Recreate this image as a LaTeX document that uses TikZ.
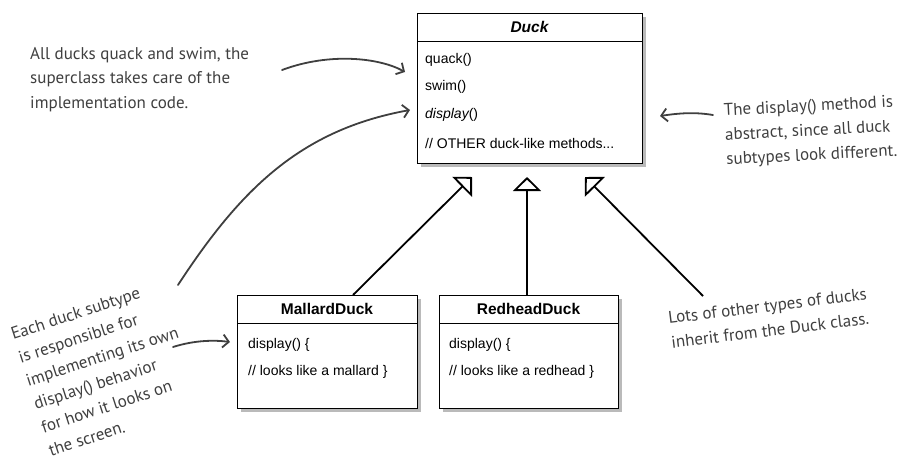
\documentclass[tikz,border=0pt]{standalone}
\usepackage{fontspec}
\setmainfont{Liberation Sans}
\newfontfamily\handfont{PT Sans}
\usetikzlibrary{arrows.meta,shadows}
\definecolor{pen}{HTML}{3f3f3f}
\begin{document}
\begin{tikzpicture}[x=1pt,y=-1pt,
  umlbox/.style={draw=black,line width=1pt,fill=white,anchor=north west,inner sep=0pt,
    drop shadow={shadow xshift=3pt,shadow yshift=-3pt,opacity=0.45,fill=black!60}},
  ttl/.style={font=\fontsize{15.5}{18}\selectfont\bfseries,inner sep=0pt},
  meth/.style={font=\fontsize{14}{16}\selectfont,anchor=west,inner sep=0pt},
  note/.style={font=\handfont\fontsize{17}{24.5}\selectfont,text=pen,align=left,inner sep=0pt},
  inherit/.style={line width=1.8pt,-{Triangle[open,length=14pt,width=28pt,line width=1.8pt]}},
  hand/.style={draw=pen,line width=1.8pt,line cap=round,-{Straight Barb[length=6pt,width=13pt,line width=1.8pt]}}]
\useasboundingbox (0,0) rectangle (924,461);

% Duck class
\node[umlbox,minimum width=225pt,minimum height=150pt] (duck) at (417,13) {};
\node[ttl] (duckt) at (529.5,27) {\itshape Duck};
\coordinate (dsl) at (417,41); \coordinate (dsr) at (642,41);
\draw[line width=1pt] (dsl) -- (dsr);
\node[meth] (m1) at (425,60) {quack()};
\node[meth] (m2) at (425,87) {swim()};
\node[meth] (m3) at (425,115) {\itshape display\upshape()};
\node[meth] (m4) at (425,143) {// OTHER duck-like methods...};

% MallardDuck
\node[umlbox,minimum width=180pt,minimum height=113pt] (mal) at (237,295) {};
\node[ttl] (malt) at (327,309) {MallardDuck};
\coordinate (msl) at (237,323); \coordinate (msr) at (417,323);
\draw[line width=1pt] (msl) -- (msr);
\node[meth] (ma1) at (248,345) {display() \{};
\node[meth] (ma2) at (248,372) {// looks like a mallard \}};

% RedheadDuck
\node[umlbox,minimum width=179pt,minimum height=113pt] (red) at (439,295) {};
\node[ttl] (redt) at (528.5,309) {RedheadDuck};
\coordinate (rsl) at (439,323); \coordinate (rsr) at (618,323);
\draw[line width=1pt] (rsl) -- (rsr);
\node[meth] (re1) at (449,345) {display() \{};
\node[meth] (re2) at (449,372) {// looks like a redhead \}};

% inheritance arrows
\coordinate (mtop) at (353,295);
\coordinate (rtop) at (527,295);
\coordinate (otop) at (703,296);
\coordinate (tip1) at (472,177);
\coordinate (tip2) at (527,177);
\coordinate (tip3) at (585,177);
\draw[inherit] (mtop) -- (tip1);
\draw[inherit,line width=2.6pt] (rtop) -- (tip2);
\draw[inherit] (otop) -- (tip3);

% notes
\node[note,anchor=north west] (n1) at (30,47) {All ducks quack and swim, the\\superclass takes care of the\\implementation code.};
\node[note,rotate=3,anchor=west] (n2) at (725,136) {The display() method is\\abstract, since all duck\\subtypes look different.};
\node[note,rotate=18] (n3) at (106,368) {Each duck subtype\\is responsible for\\implementing its own\\display() behavior\\for how it looks on\\the screen.};
\node[note,rotate=7] (n4) at (769,318) {Lots of other types of ducks\\inherit from the Duck class.};

% hand arrows
\coordinate (a1s) at (282,70); \coordinate (a1e) at (405,72);
\draw[hand] (a1s) .. controls (330,52) and (380,58) .. (a1e);
\coordinate (a2s) at (178,285); \coordinate (a2e) at (410,110);
\draw[hand] (a2s) .. controls (240,190) and (300,130) .. (a2e);
\coordinate (a3s) at (173,347); \coordinate (a3e) at (230,342);
\draw[hand] (a3s) .. controls (195,340) and (215,340) .. (a3e);
\coordinate (a4s) at (713,115); \coordinate (a4e) at (660,116);
\draw[hand] (a4s) .. controls (695,112) and (680,113) .. (a4e);
\end{tikzpicture}
\end{document}
